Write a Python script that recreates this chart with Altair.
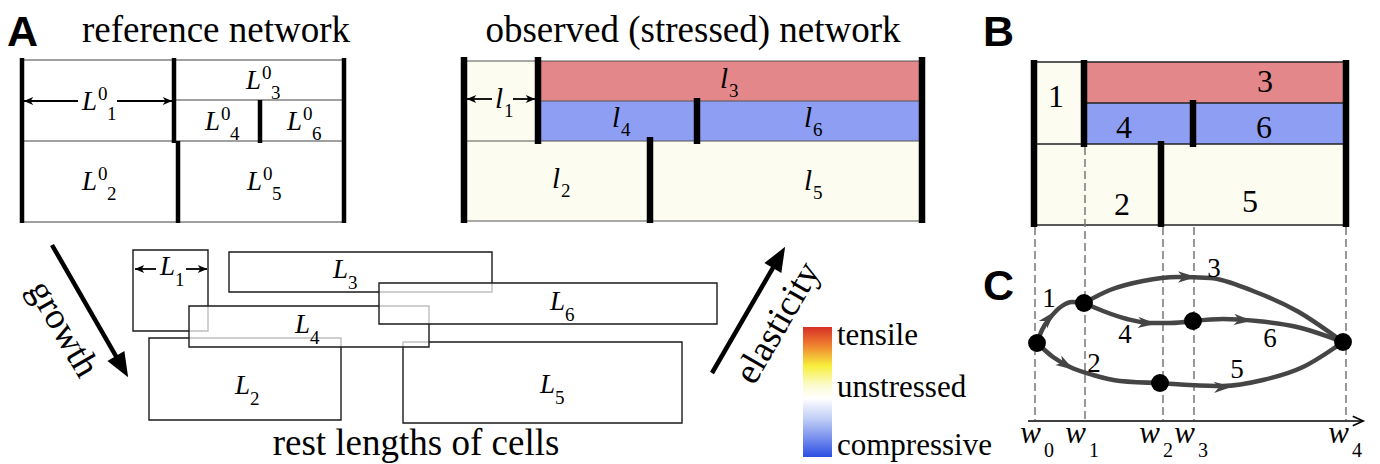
import altair as alt
import pandas as pd

# ---------------- values (pixel units) ----------------
# titles
title_text = ["reference network", "observed (stressed) network", "rest lengths of cells"]
title_x = [216, 693, 416]
title_y = [42, 42, 455]

panel_text = ["A", "B", "C"]
panel_x = [7, 983, 983]
panel_y = [46, 46, 300]

# A: reference network
ref_bar_x = [22, 174, 178, 260, 344]
ref_bar_y1 = [58, 58, 141, 100, 58]
ref_bar_y2 = [223, 143, 223, 143, 223]
ref_line_y = [60, 100, 141, 222]
ref_line_x1 = [22, 176, 22, 22]
ref_line_x2 = [344, 344, 344, 344]
ref_lab_x = [97, 97, 261, 220, 262, 302]
ref_lab_y = [110, 190, 89, 130, 190, 130]
ref_lab_sub = ["1", "2", "3", "4", "5", "6"]

# A: observed network
obs_cell_x1 = [464, 464, 538, 538]
obs_cell_x2 = [538, 922, 922, 922]
obs_cell_y1 = [61, 141, 61, 101]
obs_cell_y2 = [141, 221, 101, 141]
obs_cell_state = ["free", "free", "tensile", "compressive"]
obs_bar_x = [464, 538, 697, 650, 922]
obs_bar_y1 = [57, 57, 98, 137, 57]
obs_bar_y2 = [223, 144, 144, 223, 223]
obs_line_y = [61, 101, 141, 221]
obs_line_x1 = [464, 538, 464, 464]
obs_line_x2 = [922, 922, 922, 922]
obs_lab_x = [503, 560, 728, 620, 812, 812]
obs_lab_y = [108, 188, 88, 127, 190, 127]
obs_lab_sub = ["1", "2", "3", "4", "5", "6"]

# A: rest lengths (drawing order matters)
rest_name = ["2", "5", "1", "3", "4", "6"]
rest_x1 = [149, 403, 133, 229, 189, 379]
rest_x2 = [341, 682, 208, 492, 429, 717]
rest_y1 = [338, 342, 250, 252, 306, 283]
rest_y2 = [420, 423, 331, 292, 347, 324]
rest_lab_x = [250, 555, 175, 348, 310, 565]
rest_lab_y = [394, 393, 275, 278, 333, 310]

# double arrows for L0_1, l_1, L_1: left tip, right tip, y, gap start, gap end
darrow_xl = [24, 467, 135]
darrow_xr = [172, 535, 207]
darrow_y = [101, 99, 269]
darrow_g1 = [78, 492, 156]
darrow_g2 = [117, 513, 186]

# growth / elasticity arrows: tail, tip
big_tail_x = [52, 712]
big_tail_y = [245, 373]
big_tip_x = [128, 785]
big_tip_y = [377, 247]
big_angle = [60, 300]
big_label = ["growth", "elasticity"]
big_label_x = [63, 778]
big_label_y = [329, 323]

# colour bar
cbar_x1, cbar_x2, cbar_y1, cbar_y2 = [803], [832], [327], [457]
cbar_stop_pos = [0.0, 0.13, 0.3, 0.45, 0.55, 0.7, 0.85, 1.0]
cbar_stop_col = ["#d62f26", "#ee7a2e", "#f7ef3c", "#fbfbd0", "#ffffff",
                 "#c3d0f6", "#7a92ee", "#2a4ee3"]
cbar_text = ["tensile", "unstressed", "compressive"]
cbar_text_y = [345, 397, 455]

# B
b_cell_x1 = [1034, 1034, 1084, 1084]
b_cell_x2 = [1084, 1346, 1346, 1346]
b_cell_y1 = [62, 144, 62, 103]
b_cell_y2 = [144, 225, 103, 144]
b_cell_state = ["free", "free", "tensile", "compressive"]
b_bar_x = [1034, 1084, 1193, 1161, 1346]
b_bar_y1 = [60, 60, 100, 141, 60]
b_bar_y2 = [227, 147, 147, 227, 227]
b_line_y = [62, 103, 144, 225]
b_line_x1 = [1034, 1084, 1034, 1034]
b_line_x2 = [1346, 1346, 1346, 1346]
b_num = ["1", "3", "4", "6", "2", "5"]
b_num_x = [1056, 1265, 1124, 1264, 1122, 1250]
b_num_y = [107, 92, 138, 138, 215, 212]

# C
w_x = [1035, 1085, 1163, 1194, 1346]
w_dash_top = [227, 147, 227, 227, 227]
w_dash_bot = 420
w_lab_x = [1041, 1086, 1160, 1195, 1349]
w_lab_y = 443
axis_x1, axis_x2, axis_y = 1028, 1363, 421

node_x = [1037, 1084, 1160, 1193, 1343]
node_y = [343, 303, 383, 321, 342]

edge_pts = {
    "1": [(1037, 343), (1042, 330), (1050, 318), (1062, 306), (1072, 302), (1084, 303)],
    "3": [(1084, 303), (1110, 290), (1143, 281), (1177, 277), (1210, 278),
          (1253, 291), (1297, 311), (1343, 342)],
    "4": [(1084, 303), (1103, 311), (1127, 319), (1150, 323), (1170, 323), (1193, 321)],
    "6": [(1193, 321), (1223, 319), (1257, 321), (1297, 327), (1343, 342)],
    "2": [(1037, 343), (1053, 357), (1070, 367), (1093, 375), (1120, 381), (1160, 383)],
    "5": [(1160, 383), (1190, 385), (1223, 386), (1263, 380), (1303, 367), (1343, 342)],
}
head_x = [1049, 1187, 1147, 1243, 1066, 1223]
head_y = [318, 277, 323, 320, 365, 387]
head_angle = [312, 0, 4, 4, 32, 358]
edge_num = ["1", "3", "4", "6", "2", "5"]
edge_num_x = [1049, 1214, 1125, 1270, 1094, 1237]
edge_num_y = [307, 277, 343, 347, 372, 378]

state_colors = {"free": "#fcfcf1", "tensile": "#e4878a", "compressive": "#8e9ef2"}

# ---------------- chart ----------------
X0, X1, Y0, Y1 = 8, 1372, 8, 464
xs = alt.Scale(domain=[X0, X1], nice=False, zero=False)
ys = alt.Scale(domain=[Y0, Y1], nice=False, zero=False, reverse=True)
SERIF = "Liberation Serif"
SANS = "Liberation Sans"


def ex(f="x"):
    return alt.X(f"{f}:Q", scale=xs, axis=None)


def ey(f="y"):
    return alt.Y(f"{f}:Q", scale=ys, axis=None)


def text(df, size, font=SERIF, style="normal", weight="normal", align="center",
         dx=0, dy=0, angle=0, baseline="alphabetic", color="black"):
    return alt.Chart(df).mark_text(
        fontSize=size, font=font, fontStyle=style, fontWeight=weight, align=align,
        baseline=baseline, dx=dx, dy=dy, angle=angle, color=color
    ).encode(x=ex(), y=ey(), text="t:N")


def rules(df, width, color="black", dash=None, cap="butt"):
    kw = dict(strokeWidth=width, color=color, strokeCap=cap)
    if dash:
        kw["strokeDash"] = dash
    return alt.Chart(df).mark_rule(**kw).encode(
        x=ex("x"), y=ey("y"), x2=alt.X2("x2:Q"), y2=alt.Y2("y2:Q"))


def cells(x1, x2, y1, y2, state):
    df = pd.DataFrame({"x": x1, "x2": x2, "y": y1, "y2": y2, "s": state})
    return alt.Chart(df).mark_rect().encode(
        x=ex("x"), x2=alt.X2("x2:Q"), y=ey("y"), y2=alt.Y2("y2:Q"),
        color=alt.Color("s:N", legend=None,
                        scale=alt.Scale(domain=list(state_colors), range=list(state_colors.values()))))


layers = []

# coloured cells
layers.append(cells(obs_cell_x1, obs_cell_x2, obs_cell_y1, obs_cell_y2, obs_cell_state))
layers.append(cells(b_cell_x1, b_cell_x2, b_cell_y1, b_cell_y2, b_cell_state))

# thin horizontal walls
layers.append(rules(pd.DataFrame({"x": ref_line_x1, "x2": ref_line_x2, "y": ref_line_y, "y2": ref_line_y}), 1.4, "#808080"))
layers.append(rules(pd.DataFrame({"x": obs_line_x1, "x2": obs_line_x2, "y": obs_line_y, "y2": obs_line_y}), 1.2, "#555555"))
layers.append(rules(pd.DataFrame({"x": b_line_x1, "x2": b_line_x2, "y": b_line_y, "y2": b_line_y}), 1.4, "#222222"))

# dashed w-lines
layers.append(rules(pd.DataFrame({"x": w_x, "x2": w_x, "y": w_dash_top, "y2": [w_dash_bot] * 5}), 1.5, "#777777", dash=[8, 4]))

# thick vertical walls
layers.append(rules(pd.DataFrame({"x": ref_bar_x, "x2": ref_bar_x, "y": ref_bar_y1, "y2": ref_bar_y2}), 4.5))
layers.append(rules(pd.DataFrame({"x": obs_bar_x, "x2": obs_bar_x, "y": obs_bar_y1, "y2": obs_bar_y2}), 6.5))
layers.append(rules(pd.DataFrame({"x": b_bar_x, "x2": b_bar_x, "y": b_bar_y1, "y2": b_bar_y2}), 6.5))

# rest length boxes
rest_df = pd.DataFrame({"x": rest_x1, "x2": rest_x2, "y": rest_y1, "y2": rest_y2,
                        "o": list(range(len(rest_name)))})
layers.append(alt.Chart(rest_df).mark_rect(fill="white", fillOpacity=0.72, stroke="#1a1a1a",
                                           strokeWidth=1.4).encode(
    x=ex("x"), x2=alt.X2("x2:Q"), y=ey("y"), y2=alt.Y2("y2:Q"), order="o:Q"))

# double arrows
seg = pd.DataFrame({
    "x": darrow_xl + darrow_g2, "x2": darrow_g1 + darrow_xr,
    "y": darrow_y + darrow_y, "y2": darrow_y + darrow_y})
layers.append(rules(seg, 1.8))
HEAD = "M 1 0 L -1 -0.85 L -0.45 0 L -1 0.85 Z"
heads = pd.DataFrame({
    "x": [v + 4.5 for v in darrow_xl] + [v - 4.5 for v in darrow_xr],
    "y": darrow_y + darrow_y,
    "a": [180] * 3 + [0] * 3})
layers.append(alt.Chart(heads).mark_point(shape=HEAD, filled=True, color="black", size=90, opacity=1).encode(
    x=ex(), y=ey(), angle=alt.Angle("a:Q", scale=None)))

# growth / elasticity arrows
big_center_x, big_center_y = [], []
for tx, ty, hx, hy in zip(big_tail_x, big_tail_y, big_tip_x, big_tip_y):
    L = ((hx - tx) ** 2 + (hy - ty) ** 2) ** 0.5
    big_center_x.append(hx - (hx - tx) / L * 12)
    big_center_y.append(hy - (hy - ty) / L * 12)
layers.append(rules(pd.DataFrame({"x": big_tail_x, "x2": big_center_x, "y": big_tail_y, "y2": big_center_y}), 4.5))
layers.append(alt.Chart(pd.DataFrame({"x": big_center_x, "y": big_center_y, "a": big_angle})).mark_point(
    shape="M 1 0 L -1 -0.8 L -1 0.8 Z", filled=True, color="black", size=600, opacity=1).encode(
    x=ex(), y=ey(), angle=alt.Angle("a:Q", scale=None)))
for lab, lx, ly, ang in zip(big_label, big_label_x, big_label_y, big_angle):
    layers.append(text(pd.DataFrame({"x": [lx], "y": [ly], "t": [lab]}), 37, angle=ang, baseline="middle"))

# colour bar
grad = alt.Gradient(gradient="linear", x1=0, x2=0, y1=0, y2=1,
                    stops=[alt.GradientStop(color=c, offset=o) for c, o in zip(cbar_stop_col, cbar_stop_pos)])
layers.append(alt.Chart(pd.DataFrame({"x": cbar_x1, "x2": cbar_x2, "y": cbar_y1, "y2": cbar_y2})).mark_rect(
    color=grad).encode(x=ex("x"), x2=alt.X2("x2:Q"), y=ey("y"), y2=alt.Y2("y2:Q")))
layers.append(text(pd.DataFrame({"x": [cbar_x2[0] + 5] * 3, "y": cbar_text_y, "t": cbar_text}), 31, align="left"))

# C: axis arrow
layers.append(rules(pd.DataFrame({"x": [axis_x1], "x2": [axis_x2 - 1], "y": [axis_y], "y2": [axis_y]}), 1.6))
layers.append(alt.Chart(pd.DataFrame({"x": [axis_x2 - 5], "y": [axis_y]})).mark_point(
    shape="M -1 -0.9 L 1 0 L -1 0.9", filled=False, color="black", strokeWidth=1.6, size=110, opacity=1).encode(
    x=ex(), y=ey()))

# C: edges
rows = []
for k, pts in edge_pts.items():
    for i, (px, py) in enumerate(pts):
        rows.append({"e": k, "o": i, "x": px, "y": py})
layers.append(alt.Chart(pd.DataFrame(rows)).mark_line(
    interpolate="monotone", color="#454545", strokeWidth=4.5).encode(
    x=ex(), y=ey(), detail="e:N", order="o:Q"))
layers.append(alt.Chart(pd.DataFrame({"x": head_x, "y": head_y, "a": head_angle})).mark_point(
    shape="M 1 0 L -1 -0.62 L -0.45 0 L -1 0.62 Z", filled=True, color="#454545", size=330, opacity=1).encode(
    x=ex(), y=ey(), angle=alt.Angle("a:Q", scale=None)))
layers.append(alt.Chart(pd.DataFrame({"x": node_x, "y": node_y})).mark_circle(
    color="black", size=320, opacity=1).encode(x=ex(), y=ey()))
layers.append(text(pd.DataFrame({"x": edge_num_x, "y": edge_num_y, "t": edge_num}), 27))

# w labels
layers.append(text(pd.DataFrame({"x": w_lab_x, "y": [w_lab_y] * 5, "t": ["w"] * 5}), 31, style="italic", align="right"))
layers.append(text(pd.DataFrame({"x": w_lab_x, "y": [w_lab_y] * 5, "t": ["0", "1", "2", "3", "4"]}), 20, align="left", dx=3, dy=14))

# B numbers
layers.append(text(pd.DataFrame({"x": b_num_x, "y": b_num_y, "t": b_num}), 32))

# A labels: reference
layers.append(text(pd.DataFrame({"x": ref_lab_x, "y": ref_lab_y, "t": ["L"] * 6}), 27, style="italic", align="right"))
layers.append(text(pd.DataFrame({"x": ref_lab_x, "y": ref_lab_y, "t": ["0"] * 6}), 19, align="left", dx=1, dy=-10))
layers.append(text(pd.DataFrame({"x": ref_lab_x, "y": ref_lab_y, "t": ref_lab_sub}), 19, align="left", dx=10, dy=10))
# observed
layers.append(text(pd.DataFrame({"x": obs_lab_x, "y": obs_lab_y, "t": ["l"] * 6}), 29, style="italic", align="right"))
layers.append(text(pd.DataFrame({"x": obs_lab_x, "y": obs_lab_y, "t": obs_lab_sub}), 19, align="left", dx=1, dy=9))
# rest
layers.append(text(pd.DataFrame({"x": rest_lab_x, "y": rest_lab_y, "t": ["L"] * 6}), 27, style="italic", align="right"))
layers.append(text(pd.DataFrame({"x": rest_lab_x, "y": rest_lab_y, "t": rest_name}), 19, align="left", dx=0, dy=11))

# titles and panel letters
layers.append(text(pd.DataFrame({"x": title_x, "y": title_y, "t": title_text}), 37))
layers.append(text(pd.DataFrame({"x": panel_x, "y": panel_y, "t": panel_text}), 43, font=SANS, weight="bold", align="left"))

chart = alt.layer(*layers).properties(
    width=X1 - X0, height=Y1 - Y0, padding=0, autosize="none", background="white"
).configure_view(stroke=None)

chart.save("out.html", embed_options={"renderer": "svg", "actions": False})
